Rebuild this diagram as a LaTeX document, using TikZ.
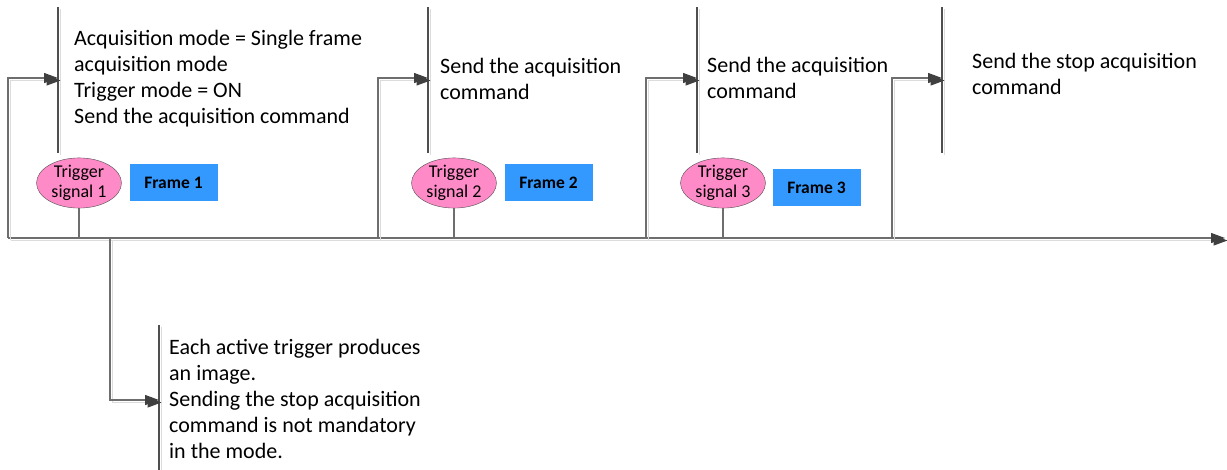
\documentclass[tikz,border=0pt]{standalone}
\usepackage{fontspec}
\setmainfont{Carlito}
\usetikzlibrary{arrows.meta, positioning, shapes.geometric}
\definecolor{cLine} {HTML}{6E6E6E}
\definecolor{cBar}  {HTML}{4F4F4F}
\definecolor{cTip}  {HTML}{404040}
\definecolor{cShade}{HTML}{DCDCDC}
\definecolor{cPink} {HTML}{FF8AC8}
\definecolor{cBlue} {HTML}{3399FF}

\begin{document}
\begin{tikzpicture}[x=1pt, y=-1pt,
      shadow/.style = {preaction={draw=cShade, line width=1.3pt, transform canvas={shift={(2.5pt,-2.5pt)}}}},
      ln/.style     = {draw=cLine, line width=1.1pt},
      ar/.style     = {ln, shadow, -{Triangle[length=14pt, width=10pt, fill=cTip, color=cTip]}},
      bar/.style    = {draw=cBar, line width=1.1pt, shadow},
      note/.style   = {inner sep=0pt, align=left, font=\fontsize{22}{26}\selectfont},
      trig/.style   = {ellipse, draw=cBar, fill=cPink, minimum width=85pt, minimum height=49pt, inner sep=0pt, align=center, font=\fontsize{18}{20}\selectfont},
      frm/.style    = {rectangle, fill=cBlue, minimum width=88pt, minimum height=37pt, font=\fontsize{17.5}{20}\selectfont\bfseries} ]
    \useasboundingbox (0,0) rectangle (1227,470);

    % time axis and the points where each step leaves it
    \coordinate (tl0) at (8,238);
    \coordinate (tlE) at (1225,238);
    \coordinate (s2) at (378,238);
    \coordinate (s3) at (646,238);
    \coordinate (s4) at (892,238);
    \coordinate (s5) at (110,238);
    \coordinate (a1) at (58,78);
    \coordinate (a2) at (428,78);
    \coordinate (a3) at (697,78);
    \coordinate (a4) at (942,78);
    \coordinate (a5) at (159,400);

    \foreach \x in {58,428,697,942} \draw[bar] (\x,7) -- (\x,153);
    \draw[bar] (159,325) -- (159,470);

    % notes: anchored on the baseline of their last line
    \node[note, anchor=base west] (n1) at (74,124)
      {Acquisition mode = Single frame\\acquisition mode\\Trigger mode = ON\\Send the acquisition command};
    \node[note, anchor=base west] (n2) at (440,100) {Send the acquisition\\command};
    \node[note, anchor=base west] (n3) at (707,99) {Send the acquisition\\command};
    \node[note, anchor=base west] (n4) at (972,95) {Send the stop acquisition\\command};
    \node[note, anchor=base west] (n5) at (169,458)
      {Each active trigger produces\\an image.\\Sending the stop acquisition\\command is not mandatory\\in the mode.};

    \node[trig] (e1) at (79,183)  {Trigger\\signal 1};
    \node[trig] (e2) at (454,183) {Trigger\\signal 2};
    \node[trig] (e3) at (723,183) {Trigger\\signal 3};
    \node[frm]  (f1) at (173.5,183) {Frame 1};
    \node[frm]  (f2) at (548.5,183) {Frame 2};
    \node[frm]  (f3) at (816.5,188) {Frame 3};

    \draw[ln] (e1.south) -- (e1.south |- tl0);
    \draw[ln] (e2.south) -- (e2.south |- tl0);
    \draw[ln] (e3.south) -- (e3.south |- tl0);

    \draw[ar] (tl0) -- (tlE);
    \draw[ar] (tl0) |- (a1);
    \draw[ar] (s2) |- (a2);
    \draw[ar] (s3) |- (a3);
    \draw[ar] (s4) |- (a4);
    \draw[ar] (s5) |- (a5);
  \end{tikzpicture}
\end{document}
